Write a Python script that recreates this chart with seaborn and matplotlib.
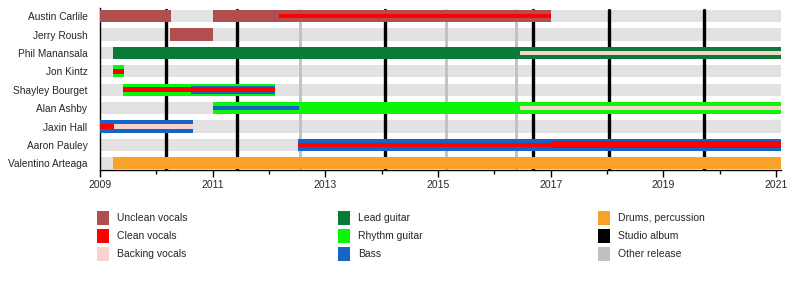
import matplotlib
matplotlib.use("Agg")
import matplotlib.pyplot as plt
from matplotlib.patches import Rectangle
from matplotlib.ticker import MultipleLocator
import seaborn as sns

# ---------------- data ----------------
members = ["Austin Carlile", "Jerry Roush", "Phil Manansala", "Jon Kintz",
           "Shayley Bourget", "Alan Ashby", "Jaxin Hall", "Aaron Pauley",
           "Valentino Arteaga"]

start_year = 2009.0
end_year = 2021.09

# role bars: member, role, start, end
bar_member = ["Austin Carlile", "Austin Carlile", "Jerry Roush", "Phil Manansala",
              "Jon Kintz", "Shayley Bourget", "Alan Ashby", "Jaxin Hall",
              "Aaron Pauley", "Valentino Arteaga"]
bar_role = ["Unclean vocals", "Unclean vocals", "Unclean vocals", "Lead guitar",
            "Rhythm guitar", "Rhythm guitar", "Rhythm guitar", "Bass",
            "Bass", "Drums, percussion"]
bar_start = [2009.0, 2011.0, 2010.24, 2009.23, 2009.23, 2009.41, 2011.0, 2009.0,
             2012.52, 2009.23]
bar_end = [2010.26, 2017.0, 2011.0, 2021.09, 2009.43, 2012.11, 2021.09, 2010.65,
           2021.09, 2021.09]

# medium-width overlays
mid_member = ["Shayley Bourget"]
mid_role = ["Bass"]
mid_start = [2010.62]
mid_end = [2012.11]

# thin stripes
stripe_member = ["Austin Carlile", "Phil Manansala", "Jon Kintz", "Shayley Bourget",
                 "Alan Ashby", "Alan Ashby", "Jaxin Hall", "Jaxin Hall",
                 "Aaron Pauley", "Aaron Pauley"]
stripe_role = ["Clean vocals", "Backing vocals", "Clean vocals", "Clean vocals",
               "Bass", "Backing vocals", "Clean vocals", "Backing vocals",
               "Clean vocals", "Clean vocals"]
stripe_start = [2012.17, 2016.46, 2009.23, 2009.41, 2011.0, 2016.46, 2009.0, 2009.25,
                2012.52, 2017.0]
stripe_end = [2017.0, 2021.09, 2009.43, 2012.11, 2012.53, 2021.09, 2009.25, 2010.65,
              2017.0, 2021.09]
stripe_thick = [False, False, False, False, False, False, False, False, False, True]

studio_albums = [2010.17, 2011.43, 2014.06, 2016.69, 2018.04, 2019.73]
other_releases = [2012.55, 2015.15, 2016.39]

legend_labels = ["Unclean vocals", "Clean vocals", "Backing vocals",
                 "Lead guitar", "Rhythm guitar", "Bass",
                 "Drums, percussion", "Studio album", "Other release"]

colors = {
    "Unclean vocals": "#B04E50",
    "Clean vocals": "#FF0000",
    "Backing vocals": "#F8D2CC",
    "Lead guitar": "#097A38",
    "Rhythm guitar": "#0AF50A",
    "Bass": "#1565C6",
    "Drums, percussion": "#FAA12A",
    "Studio album": "#000000",
    "Other release": "#C0C0C0",
}

# ---------------- plot ----------------
sns.set_theme(style="white")
plt.rcParams["font.family"] = ["Liberation Sans", "DejaVu Sans"]

fig = plt.figure(figsize=(8.0, 2.9), dpi=100)
ax = fig.add_axes([100 / 800, 1 - 170 / 290, 681 / 800, 162 / 290])

ypos = {m: i for i, m in enumerate(members)}
H = 0.66
kw = dict(linewidth=0, edgecolor="none")

# background bars
ax.barh([ypos[m] for m in members], [end_year - start_year] * len(members),
        left=start_year, height=H, color="#E2E2E2", zorder=1, **kw)

for x in studio_albums:
    ax.axvline(x, ymax=0.985, color=colors["Studio album"], lw=2.4, zorder=2)
for x in other_releases:
    ax.axvline(x, ymax=0.985, color=colors["Other release"], lw=2.0, zorder=2)

ax.barh([ypos[m] for m in bar_member],
        [e - s for s, e in zip(bar_start, bar_end)], left=bar_start,
        height=H, color=[colors[r] for r in bar_role], zorder=3, **kw)
ax.barh([ypos[m] for m in mid_member],
        [e - s for s, e in zip(mid_start, mid_end)], left=mid_start,
        height=0.42, color=[colors[r] for r in mid_role], zorder=4, **kw)
ax.barh([ypos[m] for m in stripe_member],
        [e - s for s, e in zip(stripe_start, stripe_end)], left=stripe_start,
        height=[0.38 if t else 0.25 for t in stripe_thick],
        color=[colors[r] for r in stripe_role], zorder=5, **kw)

ax.set_xlim(start_year, end_year)
ax.set_ylim(8.36, -0.44)
ax.set_yticks(range(len(members)))
ax.set_yticklabels(members, fontsize=7.3)
ax.xaxis.set_major_locator(MultipleLocator(2))
ax.xaxis.set_minor_locator(MultipleLocator(1))
ax.set_xticks(range(2009, 2022, 2))
ax.set_xticklabels([str(y) for y in range(2009, 2022, 2)], fontsize=7.5)
ax.tick_params(axis="y", length=0, pad=9)
ax.tick_params(axis="x", which="major", direction="out", length=5, width=1,
               color="black", bottom=True, pad=2)
ax.tick_params(axis="x", which="minor", direction="out", length=3, width=1,
               color="black", bottom=True)
for side in ["top", "right"]:
    ax.spines[side].set_visible(False)
for side in ["left", "bottom"]:
    ax.spines[side].set_color("black")
    ax.spines[side].set_linewidth(1.0)
ax.set_axisbelow(False)

# legend (manual 3 columns)
col_x = [97, 338, 598]
row_y = [218, 236, 254]
for i, lab in enumerate(legend_labels):
    cx = col_x[i // 3]
    cy = row_y[i % 3]
    fig.patches.append(Rectangle((cx / 800, 1 - (cy + 7) / 290), 12 / 800, 14 / 290,
                                 transform=fig.transFigure, color=colors[lab],
                                 linewidth=0, figure=fig))
    fig.text((cx + 20) / 800, 1 - cy / 290, lab, fontsize=7.5, va="center",
             ha="left")

fig.savefig("out.png", dpi=100)
